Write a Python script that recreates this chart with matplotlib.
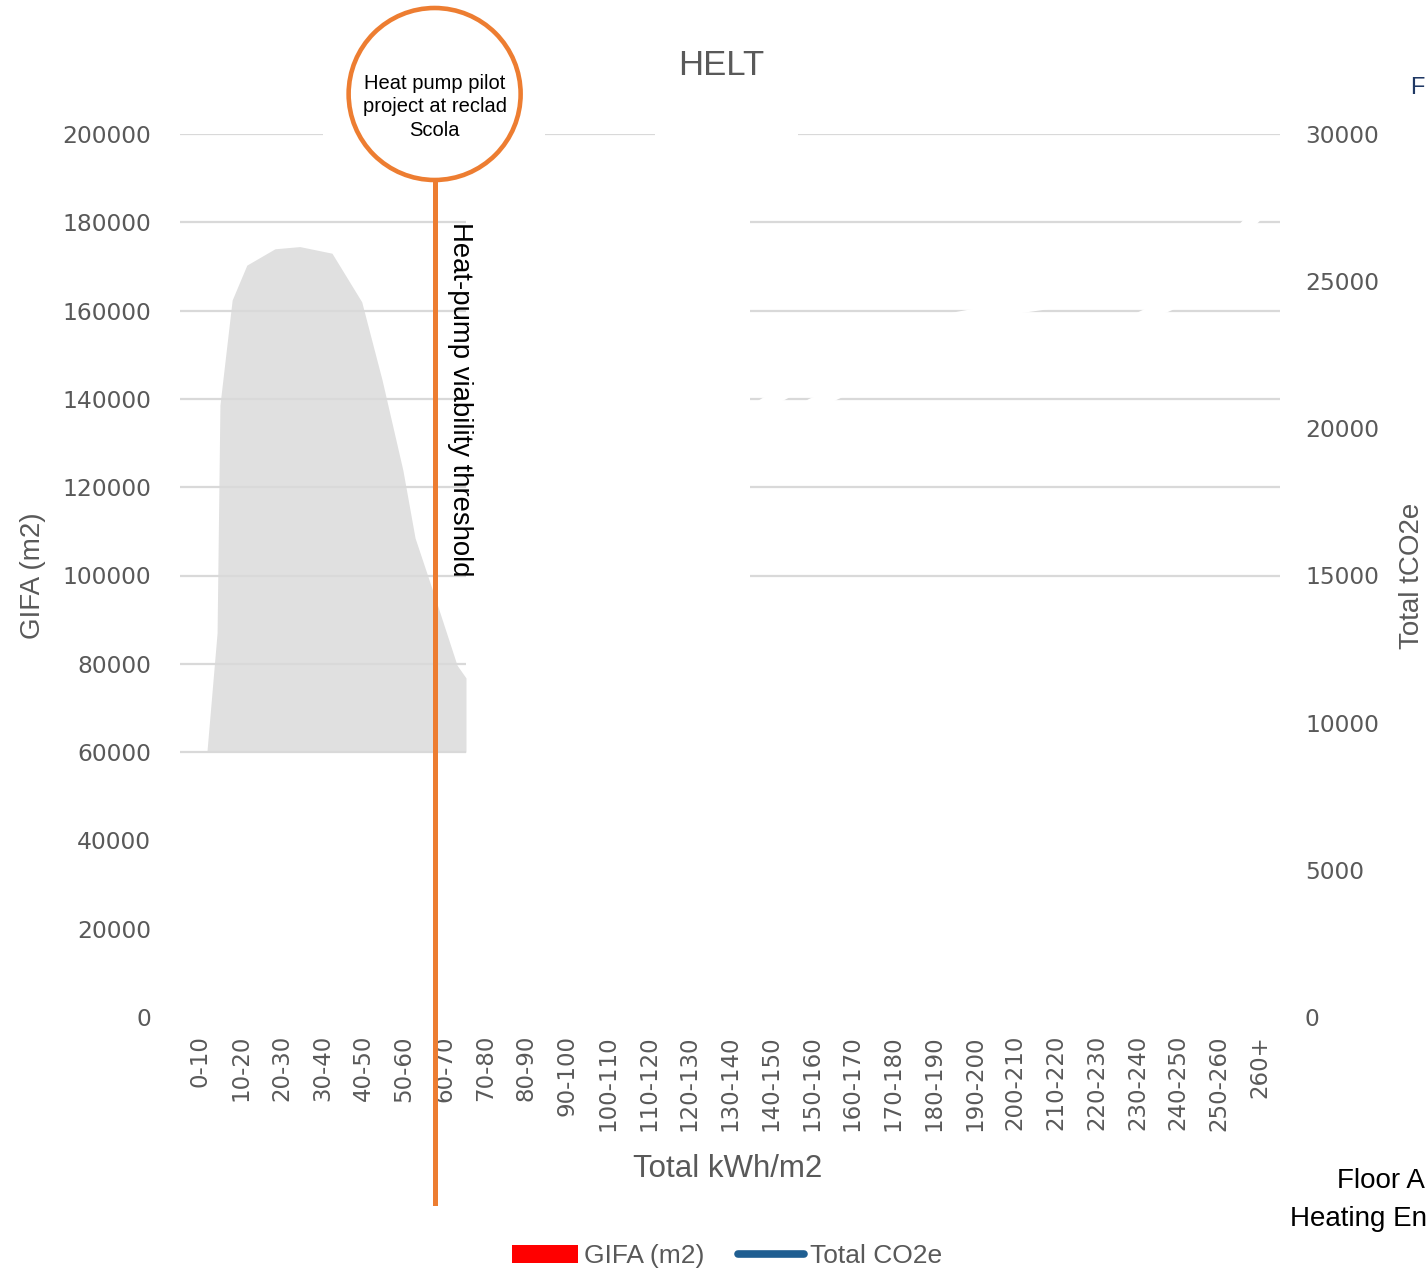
import matplotlib
matplotlib.use("Agg")
import matplotlib.pyplot as plt
import matplotlib.transforms as mtransforms
from matplotlib.patches import Circle, Patch
from matplotlib.lines import Line2D

# kWh/m2 bands on the x axis
categories = ["0-10", "10-20", "20-30", "30-40", "40-50", "50-60", "60-70", "70-80",
              "80-90", "90-100", "100-110", "110-120", "120-130", "130-140", "140-150",
              "150-160", "160-170", "170-180", "180-190", "190-200", "200-210", "210-220",
              "220-230", "230-240", "240-250", "250-260", "260+"]

# GIFA profile (m2) against kWh/m2, shaded down to the 60000 line
gifa_kwh = [6.6, 9.1, 9.8, 12.8, 16.4, 23.3, 29.4, 37.3, 44.6, 49.6, 54.7, 57.7, 62.8, 68.0, 70.2]
gifa_m2 = [60000, 87000, 138600, 162400, 170300, 174000, 174500, 173000, 162000,
           144300, 123900, 108500, 94400, 79700, 76800]
gifa_base = 60000

# cumulative tCO2e traces (right axis), bands 130-140 .. 260+
co2_idx = list(range(13, 27))
co2_upper = [20100, 20950, 21700, 22500, 23050, 23600, 23850, 24100, 24300, 24500,
             24700, 24950, 25900, 27350]
co2_lower = [19100, 20000, 20800, 21450, 22000, 22450, 22750, 23000, 23250, 23450,
             23700, 24350, 24700, 26900]

threshold_kwh = 62.5

left_ticks = list(range(0, 200001, 20000))
right_ticks = list(range(0, 30001, 5000))

GREY = "#595959"
ORANGE = "#ED7D31"
GRID = "#d9d9d9"
LAB = ["Liberation Sans", "DejaVu Sans"]


def kwh_pos(k):
    return (k - 5) / 10.0


W, H = 1427, 1272
fig = plt.figure(figsize=(W / 100, H / 100), dpi=100)
ax = fig.add_axes([180 / W, 1 - 1017 / H, 1100 / W, 883 / H])
ax.set_xlim(-0.5, 26.5)
ax.set_ylim(0, 200000)
ax2 = ax.twinx()
ax2.set_ylim(0, 30000)

for a in (ax, ax2):
    for s in a.spines.values():
        s.set_visible(False)

# gridlines, only where they show
fill_end = kwh_pos(gifa_kwh[-1])
for v in range(60000, 180001, 20000):
    ax.hlines(v, -0.5, fill_end, color=GRID, lw=1.6, zorder=2)
for v in range(100000, 180001, 20000):
    ax.hlines(v, 13.49, 26.5, color=GRID, lw=1.6, zorder=2)
for x0, x1 in [(-0.5, 3.01), (8.46, 11.16), (14.67, 26.5)]:
    ax.hlines(200000, x0, x1, color=GRID, lw=1.6, zorder=2)

ax.fill_between([kwh_pos(k) for k in gifa_kwh], gifa_base, gifa_m2,
                color="#e0e0e0", lw=0, zorder=1)

ax2.plot(co2_idx, co2_upper, color="white", lw=9, solid_capstyle="butt")
ax2.plot(co2_idx, co2_lower, color="white", lw=9, solid_capstyle="butt")

ax.set_xticks(range(len(categories)))
ax.set_xticklabels(categories, rotation=90)
ax.tick_params(axis="x", length=0, pad=13, labelsize=16.5, labelcolor=GREY)
ax.set_yticks(left_ticks)
ax.set_yticklabels([str(t) for t in left_ticks])
ax.tick_params(axis="y", length=0, pad=21, labelsize=16.8, labelcolor=GREY)
ax2.set_yticks(right_ticks)
ax2.set_yticklabels([str(t) for t in right_ticks])
ax2.tick_params(axis="y", length=0, pad=18, labelsize=16.8, labelcolor=GREY)

ax.set_ylabel("GIFA (m2)", fontsize=20, color=GREY, family=LAB)
ax.yaxis.set_label_coords(-0.122, 0.5)
ax2.set_ylabel("Total tCO2e", fontsize=20, color=GREY, family=LAB, rotation=90)
ax2.yaxis.set_label_coords(1.108, 0.5)
ax.set_xlabel("Total kWh/m2", fontsize=22.5, color=GREY, family=LAB)
ax.xaxis.set_label_coords(0.498, -0.155)
ax.text(0.492, 1.078, "HELT", transform=ax.transAxes, ha="center", va="center",
        fontsize=25, color=GREY, family=LAB)

# heat-pump threshold marker with callout circle
tx = kwh_pos(threshold_kwh)
blend = mtransforms.blended_transform_factory(ax.transData, fig.dpi_scale_trans)
fig.add_artist(Line2D([tx, tx], [0.69, 10.92], transform=blend, color=ORANGE, lw=3.6))
cx = ax.transData.transform((tx, 0))[0] / fig.dpi
fig.add_artist(Circle((cx, 11.78), 0.86, transform=fig.dpi_scale_trans,
                      facecolor="white", edgecolor=ORANGE, lw=3.3))
fig.text(cx / (W / 100), 1 - 107 / H, "Heat pump pilot\nproject at reclad\nScola",
         ha="center", va="center", fontsize=14.5, family=LAB, linespacing=1.32)
fig.text(460 / W, 1 - 222 / H, "Heat-pump viability threshold", rotation=270,
         ha="center", va="top", fontsize=19.8, family=LAB)

handles = [Patch(facecolor="#ff0000", edgecolor="none", label="GIFA (m2)"),
           Line2D([], [], color="#1f5e91", lw=5.5, solid_capstyle="round", label="Total CO2e")]
fig.legend(handles=handles, loc="center", bbox_to_anchor=(727 / W, 16 / H), ncol=2,
           frameon=False, handlelength=2.5, handletextpad=0.2, columnspacing=1.3,
           labelcolor=GREY, prop={"family": LAB, "size": 19})

fig.text(1424 / W, 1 - 88 / H, "F", color="#1f3864", fontsize=17, family=LAB,
         va="center", ha="right")
fig.text(1425 / W, 1 - 1181 / H, "Floor A", fontsize=20, family=LAB, va="center", ha="right")
fig.text(1290 / W, 1 - 1219 / H, "Heating En", fontsize=20, family=LAB, va="center")

fig.savefig("out.png", dpi=100, facecolor="white")
